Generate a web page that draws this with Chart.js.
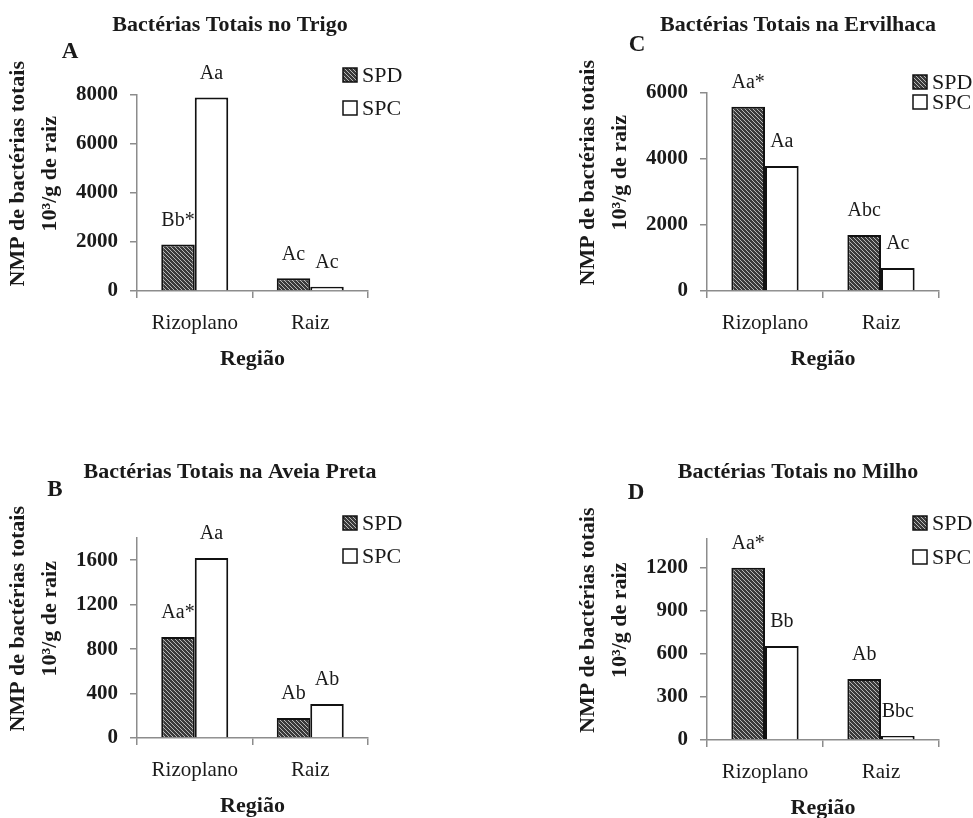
<!DOCTYPE html>
<html>
<head>
<meta charset="utf-8">
<script src="https://cdn.jsdelivr.net/npm/chart.js@4/dist/chart.umd.min.js"></script>
<style>
  html, body { margin: 0; padding: 0; background: #fff; overflow: hidden; width: 973px; height: 818px; }
  body { position: relative; }
  canvas { position: absolute; }
</style>
</head>
<body>
<canvas id="chartA" width="460" height="390" style="left:0;top:0"></canvas>
<canvas id="chartC" width="476" height="390" style="left:560px;top:0"></canvas>
<canvas id="chartB" width="460" height="437" style="left:0;top:400px"></canvas>
<canvas id="chartD" width="476" height="439" style="left:560px;top:400px"></canvas>
<script>
const regions = ['Rizoplano', 'Raiz'];
const seriesNames = ['SPD', 'SPC'];

// A - trigo
const trigoSpd = [1900, 520];
const trigoSpc = [7900, 170];
const trigoSpdMarks = ['Bb*', 'Ac'];
const trigoSpcMarks = ['Aa', 'Ac'];
const trigoTicks = [0, 2000, 4000, 6000, 8000];

// C - ervilhaca
const ervilhacaSpd = [5580, 1700];
const ervilhacaSpc = [3790, 700];
const ervilhacaSpdMarks = ['Aa*', 'Abc'];
const ervilhacaSpcMarks = ['Aa', 'Ac'];
const ervilhacaTicks = [0, 2000, 4000, 6000];

// B - aveia preta
const aveiaSpd = [910, 180];
const aveiaSpc = [1620, 305];
const aveiaSpdMarks = ['Aa*', 'Ab'];
const aveiaSpcMarks = ['Aa', 'Ab'];
const aveiaTicks = [0, 400, 800, 1200, 1600];

// D - milho
const milhoSpd = [1200, 425];
const milhoSpc = [655, 28];
const milhoSpdMarks = ['Aa*', 'Ab'];
const milhoSpcMarks = ['Bb', 'Bbc'];
const milhoTicks = [0, 300, 600, 900, 1200];

const SERIF = '"Liberation Serif", "Times New Roman", serif';
const INK = '#1a1a1a';
const AXIS = '#8c8c8c';
const Y_PAD = '       ';

function hatch () {
  const c = document.createElement('canvas');
  c.width = 4;
  c.height = 4;
  const g = c.getContext('2d');
  g.fillStyle = '#3a3a3a';
  g.fillRect(0, 0, 4, 4);
  g.strokeStyle = '#b8b8b8';
  g.lineWidth = 1;
  g.beginPath();
  g.moveTo(-1, -1); g.lineTo(5, 5);
  g.moveTo(-1, 3); g.lineTo(1, 5);
  g.moveTo(3, -1); g.lineTo(5, 1);
  g.stroke();
  return g.createPattern(c, 'repeat');
}

const hatchFill = hatch();

// letter of the panel, significance letters and the legend
function decor (p) {
  return {
    id: 'decor',
    afterDatasetsDraw (chart) {
      const ctx = chart.ctx;
      ctx.save();
      ctx.textBaseline = 'middle';
      ctx.textAlign = 'center';
      ctx.fillStyle = INK;
      ctx.font = 'bold 23px ' + SERIF;
      ctx.fillText(p.letter, p.letterAt[0], p.letterAt[1]);

      ctx.font = '20px ' + SERIF;
      p.marks.forEach((marks, d) => {
        chart.getDatasetMeta(d).data.forEach((bar, i) => {
          ctx.fillText(marks[i], bar.x, bar.y - 24);
        });
      });

      ctx.textAlign = 'left';
      ctx.font = '22px ' + SERIF;
      chart.data.datasets.forEach((ds, d) => {
        const y = p.legendY[d];
        ctx.fillStyle = ds.backgroundColor;
        ctx.fillRect(p.legendX, y - 7, 14, 14);
        ctx.strokeStyle = '#111';
        ctx.lineWidth = 1.5;
        ctx.strokeRect(p.legendX, y - 7, 14, 14);
        ctx.fillStyle = INK;
        ctx.fillText(ds.label, p.textX, y + 1);
      });
      ctx.restore();
    }
  };
}

function makePanel (id, title, spd, spc, ticks, yMax, p) {
  return new Chart(document.getElementById(id), {
    type: 'bar',
    data: {
      labels: regions,
      datasets: [
        { label: seriesNames[0], data: spd, backgroundColor: hatchFill, borderColor: '#111', borderWidth: 2 },
        { label: seriesNames[1], data: spc, backgroundColor: '#ffffff', borderColor: '#111', borderWidth: 2 }
      ]
    },
    options: {
      responsive: false,
      animation: false,
      devicePixelRatio: 1,
      categoryPercentage: 0.58,
      barPercentage: 1,
      layout: { padding: 0 },
      plugins: {
        legend: { display: false },
        tooltip: { enabled: false },
        title: {
          display: true,
          text: title,
          color: INK,
          font: { family: SERIF, size: 22, weight: 'bold', lineHeight: 1.2 },
          padding: { top: p.titleY - 13.2, bottom: p.plotTop - p.titleY - 13.2 }
        }
      },
      scales: {
        x: {
          grid: { drawOnChartArea: false, color: AXIS, tickLength: 7, lineWidth: 1.5 },
          border: { color: AXIS, width: 1.5 },
          ticks: { color: INK, font: { family: SERIF, size: 21 }, padding: 13 },
          title: {
            display: true,
            text: 'Região',
            color: INK,
            font: { family: SERIF, size: 22, weight: 'bold', lineHeight: 1.2 },
            padding: { top: 0, bottom: 17 }
          },
          afterFit: s => { s.height = 99; }
        },
        y: {
          min: 0,
          max: yMax,
          afterBuildTicks: s => { s.ticks = ticks.map(v => ({ value: v })); },
          grid: { drawOnChartArea: false, color: AXIS, tickLength: 7, lineWidth: 1.5 },
          border: { color: AXIS, width: 1.5 },
          ticks: {
            color: INK,
            font: { family: SERIF, size: 21, weight: 'bold' },
            padding: 12,
            callback: v => String(v)
          },
          title: {
            display: true,
            text: [Y_PAD + 'NMP de bactérias totais', Y_PAD + '10³/g de raiz'],
            color: INK,
            font: { family: SERIF, size: 22, weight: 'bold', lineHeight: 1.45 },
            padding: { top: p.yTitleX - 16, bottom: 0 }
          },
          afterFit: s => { s.width = p.axisLeft; }
        },
        spacer: {
          position: 'right',
          grid: { display: false },
          border: { display: false },
          ticks: { display: false },
          afterFit: s => { s.width = p.padRight; }
        }
      }
    },
    plugins: [decor(p)]
  });
}

makePanel('chartA', 'Bactérias Totais no Trigo', trigoSpd, trigoSpc, trigoTicks, 8000, {
  axisLeft: 137, padRight: 92, titleY: 25, plotTop: 95, yTitleX: 18,
  letter: 'A', letterAt: [70, 52], legendX: 343, legendY: [75, 108], textX: 362,
  marks: [trigoSpdMarks, trigoSpcMarks]
});

makePanel('chartC', 'Bactérias Totais na Ervilhaca', ervilhacaSpd, ervilhacaSpc, ervilhacaTicks, 6000, {
  axisLeft: 147, padRight: 97, titleY: 25, plotTop: 93, yTitleX: 28,
  letter: 'C', letterAt: [77, 45], legendX: 353, legendY: [82, 102], textX: 372,
  marks: [ervilhacaSpdMarks, ervilhacaSpcMarks]
});

makePanel('chartB', 'Bactérias Totais na Aveia Preta', aveiaSpd, aveiaSpc, aveiaTicks, 1800, {
  axisLeft: 137, padRight: 92, titleY: 72, plotTop: 138, yTitleX: 18,
  letter: 'B', letterAt: [55, 90], legendX: 343, legendY: [123, 156], textX: 362,
  marks: [aveiaSpdMarks, aveiaSpcMarks]
});

makePanel('chartD', 'Bactérias Totais no Milho', milhoSpd, milhoSpc, milhoTicks, 1400, {
  axisLeft: 147, padRight: 97, titleY: 72, plotTop: 139, yTitleX: 28,
  letter: 'D', letterAt: [76, 93], legendX: 353, legendY: [123, 157], textX: 372,
  marks: [milhoSpdMarks, milhoSpcMarks]
});
</script>
</body>
</html>
